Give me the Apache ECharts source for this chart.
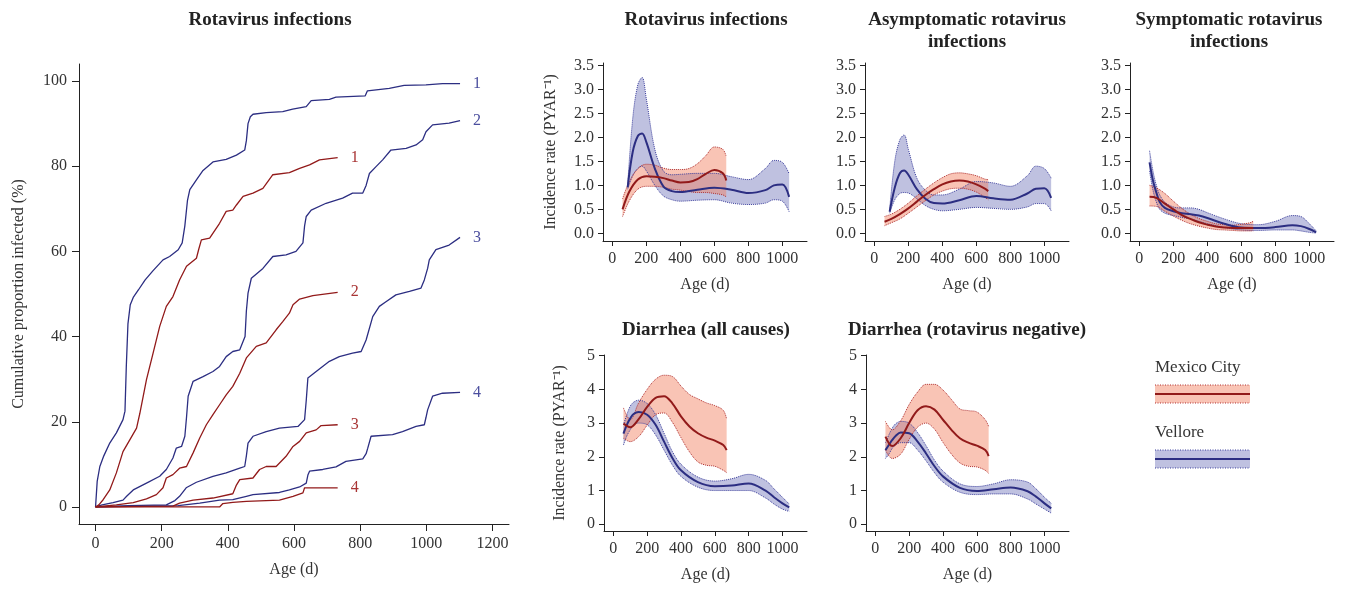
<!DOCTYPE html>
<html>
<head>
<meta charset="utf-8">
<script src="https://cdn.jsdelivr.net/npm/echarts@6/dist/echarts.min.js"></script>
<style>
  html, body { margin: 0; padding: 0; background: #fff; }
  #chart { width: 1345px; height: 590px; }
</style>
</head>
<body>
<div id="chart"></div>
<script>
// ---- left panel: cumulative proportion infected (%), by age (d) ----
const vel1Age = [0, 5, 13, 25, 43, 63, 83, 89, 93, 98, 105, 114, 130, 150, 174, 204, 224, 250, 262, 270, 278, 285, 305, 325, 355, 395, 426, 451, 456, 461, 468, 476, 516, 566, 596, 637, 652, 707, 727, 815, 822, 888, 933, 999, 1049, 1102];
const vel1Pct = [0, 6, 9.5, 12, 15, 17.4, 20.5, 22.5, 33, 43, 47.5, 49.2, 51, 53.3, 55.5, 58, 58.8, 60.4, 62, 66, 72, 74.5, 76.8, 79, 81, 81.6, 82.6, 83.8, 86, 90, 91.6, 92.2, 92.6, 92.8, 93.4, 94, 95.4, 95.7, 96.2, 96.5, 97.7, 98.3, 99, 99.1, 99.4, 99.4];
const vel2Age = [0, 20, 53, 83, 94, 114, 154, 194, 214, 234, 244, 260, 270, 275, 280, 295, 325, 355, 375, 395, 415, 436, 452, 456, 461, 471, 506, 536, 576, 606, 627, 632, 637, 652, 697, 747, 777, 808, 818, 828, 848, 868, 893, 939, 969, 989, 999, 1019, 1069, 1102];
const vel2Pct = [0, 0.5, 1, 1.6, 2.5, 4, 5.6, 7.2, 8.8, 11.5, 13.8, 14.2, 16.6, 21, 26, 29.5, 30.6, 31.8, 33, 35.3, 36.5, 36.9, 40, 46, 50.2, 53.7, 56, 58.8, 59.2, 60, 62, 66, 68.2, 69.7, 71.3, 72.5, 73.7, 73.7, 75.5, 78.3, 79.9, 81.5, 83.8, 84.2, 85, 86.2, 88.1, 89.7, 90.1, 90.7];
const vel3Age = [0, 100, 214, 240, 254, 274, 305, 355, 395, 436, 451, 456, 461, 476, 516, 556, 612, 632, 637, 642, 667, 707, 737, 777, 803, 818, 838, 858, 878, 908, 949, 984, 994, 1004, 1009, 1029, 1069, 1102];
const vel3Pct = [0, 0.3, 0.5, 1.5, 2.5, 4.5, 5.8, 7.2, 8, 9.1, 9.5, 12, 15, 16.6, 17.7, 18.5, 18.9, 20.5, 25, 30.3, 31.8, 34.2, 35.3, 36.1, 36.5, 39.2, 44.7, 47.1, 48.2, 49.8, 50.6, 51.4, 53.3, 56, 58, 60.4, 61.5, 63.3];
const vel4Age = [0, 250, 315, 375, 415, 456, 476, 556, 586, 617, 637, 642, 647, 687, 727, 757, 808, 818, 823, 833, 898, 928, 969, 994, 999, 1004, 1019, 1049, 1102];
const vel4Pct = [0, 0.3, 0.9, 1.6, 1.7, 2.5, 2.9, 3.4, 4, 4.7, 5.6, 7.5, 8.4, 8.8, 9.4, 10.7, 11.3, 12.5, 13.8, 16.6, 17, 17.7, 18.9, 19.3, 21, 22.8, 26, 26.7, 26.9];
const mex1Age = [0, 10, 23, 43, 63, 83, 104, 124, 134, 154, 174, 194, 214, 234, 254, 275, 305, 312, 320, 345, 375, 395, 415, 426, 446, 476, 506, 536, 586, 617, 647, 677, 732];
const mex1Pct = [0, 0.5, 1.7, 4, 8, 13, 15.8, 18.5, 22, 29.9, 36.1, 42.4, 47.1, 49.4, 53.3, 56.5, 58.4, 60.5, 62.7, 63.1, 66.6, 69.4, 69.7, 70.9, 72.9, 73.7, 74.8, 78, 78.5, 79.5, 80.3, 81.5, 82];
const mex2Age = [0, 63, 114, 154, 184, 204, 214, 234, 254, 275, 295, 315, 335, 355, 375, 395, 415, 436, 456, 486, 516, 546, 566, 586, 597, 617, 657, 732];
const mex2Pct = [0, 0.5, 1, 1.9, 2.9, 4.5, 6.8, 7.6, 9.1, 9.5, 12.7, 16.2, 19.3, 21.7, 24, 26.3, 28.3, 31.4, 35, 37.7, 38.5, 41.6, 43.5, 45.5, 47.5, 48.8, 49.6, 50.4];
const mex3Age = [0, 234, 254, 295, 355, 415, 425, 436, 476, 496, 516, 546, 576, 597, 617, 637, 667, 682, 732];
const mex3Pct = [0, 0.2, 0.9, 1.6, 2.1, 3.1, 5, 6.4, 6.8, 8.8, 9.5, 9.5, 11.9, 14.2, 15.4, 17.4, 18.1, 19.1, 19.3];
const mex4Age = [0, 375, 385, 415, 456, 556, 597, 627, 632, 732];
const mex4Pct = [0, 0, 0.8, 1.1, 1.3, 1.6, 2.5, 3.3, 4.5, 4.5];

// ---- incidence rates (PYAR^-1) with confidence bands ----
const mexAge  = [60, 100, 150, 200, 250, 300, 350, 400, 450, 500, 550, 600, 650, 670];
const velAgeA = [90, 120, 150, 175, 200, 250, 300, 350, 400, 500, 600, 700, 800, 900, 950, 1000, 1040];
const velAgeB = [60, 80, 100, 120, 150, 200, 250, 300, 350, 400, 500, 600, 700, 800, 900, 950, 1000, 1040];

const rotaMexMid = [0.5, 0.87, 1.12, 1.19, 1.18, 1.15, 1.1, 1.06, 1.07, 1.13, 1.24, 1.32, 1.25, 1.1];
const rotaMexHi  = [0.72, 1.08, 1.35, 1.44, 1.42, 1.36, 1.33, 1.33, 1.35, 1.45, 1.62, 1.8, 1.75, 1.6];
const rotaMexLo  = [0.35, 0.68, 0.92, 0.98, 0.98, 0.96, 0.92, 0.9, 0.87, 0.85, 0.85, 0.83, 0.8, 0.76];
const rotaVelMid = [0.96, 1.7, 2.03, 2.08, 1.9, 1.35, 0.98, 0.88, 0.86, 0.91, 0.95, 0.91, 0.84, 0.9, 1.0, 1.02, 0.76];
const rotaVelHi  = [1.0, 2.4, 3.1, 3.25, 2.8, 1.75, 1.3, 1.22, 1.23, 1.25, 1.25, 1.18, 1.12, 1.35, 1.52, 1.48, 1.24];
const rotaVelLo  = [0.92, 1.2, 1.35, 1.4, 1.3, 1.0, 0.78, 0.7, 0.67, 0.69, 0.7, 0.63, 0.6, 0.63, 0.7, 0.67, 0.45];

const asymMexMid = [0.24, 0.3, 0.4, 0.52, 0.66, 0.8, 0.92, 1.02, 1.08, 1.1, 1.08, 1.02, 0.93, 0.88];
const asymMexHi  = [0.35, 0.4, 0.5, 0.63, 0.78, 0.92, 1.05, 1.16, 1.24, 1.26, 1.24, 1.2, 1.13, 1.12];
const asymMexLo  = [0.16, 0.22, 0.3, 0.42, 0.55, 0.68, 0.8, 0.88, 0.93, 0.94, 0.92, 0.86, 0.75, 0.7];
const asymVelMid = [0.45, 0.95, 1.25, 1.31, 1.22, 0.92, 0.72, 0.63, 0.62, 0.69, 0.78, 0.73, 0.7, 0.83, 0.93, 0.94, 0.74];
const asymVelHi  = [0.5, 1.5, 1.95, 2.05, 1.75, 1.15, 0.9, 0.8, 0.8, 0.92, 1.08, 1.05, 0.98, 1.2, 1.4, 1.35, 1.15];
const asymVelLo  = [0.42, 0.7, 0.83, 0.85, 0.84, 0.72, 0.58, 0.5, 0.47, 0.5, 0.54, 0.52, 0.5, 0.55, 0.62, 0.62, 0.47];

const sympMexMid = [0.76, 0.74, 0.62, 0.5, 0.38, 0.3, 0.23, 0.18, 0.14, 0.12, 0.11, 0.11, 0.11, 0.11];
const sympMexHi  = [1.0, 0.95, 0.83, 0.67, 0.52, 0.4, 0.31, 0.25, 0.2, 0.18, 0.17, 0.19, 0.22, 0.25];
const sympMexLo  = [0.57, 0.56, 0.46, 0.36, 0.27, 0.2, 0.15, 0.11, 0.08, 0.07, 0.06, 0.05, 0.05, 0.05];
const sympVelMid = [1.48, 1.1, 0.85, 0.65, 0.53, 0.46, 0.42, 0.4, 0.37, 0.32, 0.2, 0.12, 0.11, 0.13, 0.17, 0.15, 0.09, 0.02];
const sympVelHi  = [1.72, 1.3, 1.0, 0.8, 0.65, 0.55, 0.53, 0.53, 0.5, 0.43, 0.3, 0.2, 0.18, 0.25, 0.37, 0.35, 0.2, 0.05];
const sympVelLo  = [1.3, 0.9, 0.65, 0.5, 0.42, 0.37, 0.33, 0.3, 0.25, 0.2, 0.12, 0.07, 0.06, 0.07, 0.07, 0.05, 0.02, 0.005];

const diaMexMid = [2.99, 2.88, 3.12, 3.48, 3.75, 3.8, 3.58, 3.2, 2.9, 2.7, 2.57, 2.48, 2.35, 2.2];
const diaMexHi  = [3.45, 3.1, 3.6, 4.0, 4.3, 4.42, 4.38, 4.1, 3.85, 3.72, 3.6, 3.52, 3.38, 3.12];
const diaMexLo  = [2.55, 2.45, 2.6, 2.94, 3.25, 3.3, 3.02, 2.57, 2.15, 1.85, 1.75, 1.72, 1.6, 1.53];
const diaVelMid = [2.69, 2.95, 3.14, 3.27, 3.33, 3.25, 2.95, 2.45, 1.96, 1.6, 1.25, 1.13, 1.15, 1.21, 1.0, 0.8, 0.62, 0.5];
const diaVelHi  = [2.95, 3.25, 3.5, 3.62, 3.68, 3.58, 3.25, 2.7, 2.15, 1.78, 1.4, 1.28, 1.35, 1.48, 1.3, 1.05, 0.8, 0.6];
const diaVelLo  = [2.35, 2.62, 2.8, 2.95, 3.0, 2.95, 2.65, 2.2, 1.75, 1.42, 1.1, 1.0, 1.0, 1.0, 0.78, 0.6, 0.45, 0.38];

const negMexMid = [2.6, 2.32, 2.55, 3.0, 3.38, 3.5, 3.4, 3.1, 2.8, 2.55, 2.42, 2.33, 2.2, 2.02];
const negMexHi  = [3.05, 2.8, 3.07, 3.55, 3.92, 4.15, 4.15, 3.98, 3.7, 3.42, 3.37, 3.33, 3.1, 2.9];
const negMexLo  = [2.2, 1.95, 2.08, 2.52, 2.88, 3.0, 2.82, 2.43, 2.08, 1.82, 1.72, 1.7, 1.6, 1.5];
const negVelMid = [2.2, 2.35, 2.5, 2.62, 2.72, 2.7, 2.45, 2.1, 1.72, 1.42, 1.08, 0.99, 1.04, 1.09, 0.98, 0.82, 0.62, 0.47];
const negVelHi  = [2.42, 2.65, 2.85, 2.98, 3.05, 3.0, 2.72, 2.33, 1.9, 1.58, 1.2, 1.12, 1.2, 1.32, 1.25, 1.05, 0.8, 0.62];
const negVelLo  = [1.95, 2.08, 2.25, 2.35, 2.42, 2.42, 2.2, 1.88, 1.53, 1.25, 0.95, 0.88, 0.9, 0.9, 0.75, 0.6, 0.45, 0.33];

// tick labels
const cumAgeTicks = [0, 200, 400, 600, 800, 1000, 1200];
const cumPctTicks = [0, 20, 40, 60, 80, 100];
const ageTicks = [0, 200, 400, 600, 800, 1000];
const rotaTicks = [0, 0.5, 1, 1.5, 2, 2.5, 3, 3.5];
const diaTicks = [0, 1, 2, 3, 4, 5];

const FONT = '"Liberation Serif", "Times New Roman", serif';
const BLUE = '#2c2e82', RED = '#921a1a';
const BLUE_LBL = '#4b4e9e', RED_LBL = '#a83434';
const BLUE_FILL = 'rgba(62,66,160,0.33)', RED_FILL = 'rgba(242,125,92,0.45)';
const BLUE_EDGE = '#3b3e9c', RED_EDGE = '#b03030';
const SMOOTH = 0.35;

function pairs(xs, ys) { return xs.map((x, i) => [x, ys[i]]); }

function mkAxis(o) {
  return {
    type: 'value',
    gridIndex: o.grid,
    min: o.min, max: o.max,
    name: o.name || '',
    nameLocation: 'middle',
    nameGap: o.nameGap || 30,
    nameTextStyle: { color: '#333', fontSize: 16, fontFamily: FONT },
    splitLine: { show: false },
    axisLine: { show: true, onZero: false, lineStyle: { color: '#222', width: 1 } },
    axisTick: { show: true, length: o.tickLen || 5, customValues: o.ticks, lineStyle: { color: '#222' } },
    axisLabel: {
      customValues: o.ticks, margin: o.margin || 8, color: '#333',
      fontSize: 16, fontFamily: FONT, formatter: o.fmt || (v => String(v))
    }
  };
}

const grids = [
  { left: 79, top: 64, width: 430, height: 460 },
  { left: 603, top: 63, width: 204, height: 178 },
  { left: 865, top: 63, width: 204, height: 178 },
  { left: 1130, top: 63, width: 204, height: 178 },
  { left: 604, top: 355, width: 203, height: 176 },
  { left: 866, top: 355, width: 203, height: 176 }
].map(g => Object.assign({ outerBoundsMode: 'none' }, g));

const xAxes = [
  mkAxis({ grid: 0, min: -50, max: 1250, ticks: cumAgeTicks, tickLen: 7, margin: 12, name: 'Age (d)', nameGap: 38 })
];
const yAxes = [
  mkAxis({ grid: 0, min: -4, max: 104, ticks: cumPctTicks, tickLen: 7, margin: 12, name: 'Cumulative proportion infected (%)', nameGap: 52 })
];
const fmt1 = v => v.toFixed(1);
for (let g = 1; g <= 5; g++) {
  const top = g <= 3;
  xAxes.push(mkAxis({ grid: g, min: -55, max: 1145, ticks: ageTicks, margin: 10, name: 'Age (d)', nameGap: 36 }));
  yAxes.push(mkAxis({
    grid: g,
    min: top ? -0.16 : -0.2, max: top ? 3.55 : 5.02,
    ticks: top ? rotaTicks : diaTicks, margin: 9,
    fmt: top ? fmt1 : undefined,
    name: (g === 1 || g === 4) ? 'Incidence rate (PYAR\u207B\u00B9)' : '',
    nameGap: top ? 44 : 36
  }));
}

const series = [];

function cumLine(age, pct, color, lblColor, label) {
  series.push({
    type: 'line', xAxisIndex: 0, yAxisIndex: 0,
    data: pairs(age, pct), symbol: 'none', silent: true,
    lineStyle: { color: color, width: 1.3 },
    endLabel: { show: true, formatter: label, distance: 13, color: lblColor, fontSize: 16, fontFamily: FONT }
  });
}
cumLine(vel1Age, vel1Pct, BLUE, BLUE_LBL, '1');
cumLine(vel2Age, vel2Pct, BLUE, BLUE_LBL, '2');
cumLine(vel3Age, vel3Pct, BLUE, BLUE_LBL, '3');
cumLine(vel4Age, vel4Pct, BLUE, BLUE_LBL, '4');
cumLine(mex1Age, mex1Pct, RED, RED_LBL, '1');
cumLine(mex2Age, mex2Pct, RED, RED_LBL, '2');
cumLine(mex3Age, mex3Pct, RED, RED_LBL, '3');
cumLine(mex4Age, mex4Pct, RED, RED_LBL, '4');

// band = lower bound + stacked (upper - lower); value column first so the y dimension is stacked
function band(g, key, age, lo, hi, fill) {
  const common = { type: 'line', xAxisIndex: g, yAxisIndex: g, stack: key, stackStrategy: 'all',
    encode: { x: 1, y: 0 }, symbol: 'none', silent: true, smooth: SMOOTH, z: 1, lineStyle: { opacity: 0 } };
  series.push(Object.assign({}, common, { data: age.map((a, i) => [lo[i], a]) }));
  series.push(Object.assign({}, common, {
    data: age.map((a, i) => [hi[i] - lo[i], a]),
    areaStyle: { color: fill, opacity: 1 }
  }));
}
function curve(g, age, vals, color, width, dotted) {
  series.push({
    type: 'line', xAxisIndex: g, yAxisIndex: g, data: pairs(age, vals),
    symbol: 'none', silent: true, smooth: SMOOTH, z: dotted ? 2 : 3,
    lineStyle: { color: color, width: width, type: dotted ? 'dotted' : 'solid' }
  });
}
function panel(g, vAge, vMid, vLo, vHi, mMid, mLo, mHi) {
  band(g, 'v' + g, vAge, vLo, vHi, BLUE_FILL);
  band(g, 'm' + g, mexAge, mLo, mHi, RED_FILL);
  curve(g, vAge, vLo, BLUE_EDGE, 1, true);
  curve(g, vAge, vHi, BLUE_EDGE, 1, true);
  curve(g, mexAge, mLo, RED_EDGE, 1, true);
  curve(g, mexAge, mHi, RED_EDGE, 1, true);
  curve(g, vAge, vMid, BLUE, 2, false);
  curve(g, mexAge, mMid, RED, 2, false);
}
panel(1, velAgeA, rotaVelMid, rotaVelLo, rotaVelHi, rotaMexMid, rotaMexLo, rotaMexHi);
panel(2, velAgeA, asymVelMid, asymVelLo, asymVelHi, asymMexMid, asymMexLo, asymMexHi);
panel(3, velAgeB, sympVelMid, sympVelLo, sympVelHi, sympMexMid, sympMexLo, sympMexHi);
panel(4, velAgeB, diaVelMid, diaVelLo, diaVelHi, diaMexMid, diaMexLo, diaMexHi);
panel(5, velAgeB, negVelMid, negVelLo, negVelHi, negMexMid, negMexLo, negMexHi);

const titleStyle = { fontFamily: FONT, fontSize: 19, fontWeight: 'bold', color: '#222', lineHeight: 22 };
const titles = [
  ['Rotavirus infections', 270, 9],
  ['Rotavirus infections', 706, 9],
  ['Asymptomatic rotavirus\ninfections', 967, 9],
  ['Symptomatic rotavirus\ninfections', 1229, 9],
  ['Diarrhea (all causes)', 706, 319],
  ['Diarrhea (rotavirus negative)', 967, 319]
].map(t => ({ text: t[0], left: t[1], top: t[2], textAlign: 'center', padding: 0, textStyle: titleStyle }));

// legend drawn as graphic swatches
function swatch(y, label, fill, edge, line) {
  return [
    { type: 'text', left: 1155, top: y - 26, style: { text: label, fontFamily: FONT, fontSize: 17, fill: '#333' } },
    { type: 'rect', shape: { x: 1155, y: y, width: 95, height: 18 }, style: { fill: fill } },
    { type: 'line', shape: { x1: 1155, y1: y, x2: 1250, y2: y }, style: { stroke: edge, lineWidth: 1, lineDash: [1, 1.5] } },
    { type: 'line', shape: { x1: 1155, y1: y + 18, x2: 1250, y2: y + 18 }, style: { stroke: edge, lineWidth: 1, lineDash: [1, 1.5] } },
    { type: 'line', shape: { x1: 1155, y1: y + 9, x2: 1250, y2: y + 9 }, style: { stroke: line, lineWidth: 2 } }
  ];
}

const chart = echarts.init(document.getElementById('chart'), null, { renderer: 'canvas' });
chart.setOption({
  animation: false,
  backgroundColor: '#fff',
  title: titles,
  grid: grids,
  xAxis: xAxes,
  yAxis: yAxes,
  series: series,
  graphic: swatch(385, 'Mexico City', RED_FILL, RED_EDGE, RED).concat(swatch(450, 'Vellore', BLUE_FILL, BLUE_EDGE, BLUE))
});
</script>
</body>
</html>
